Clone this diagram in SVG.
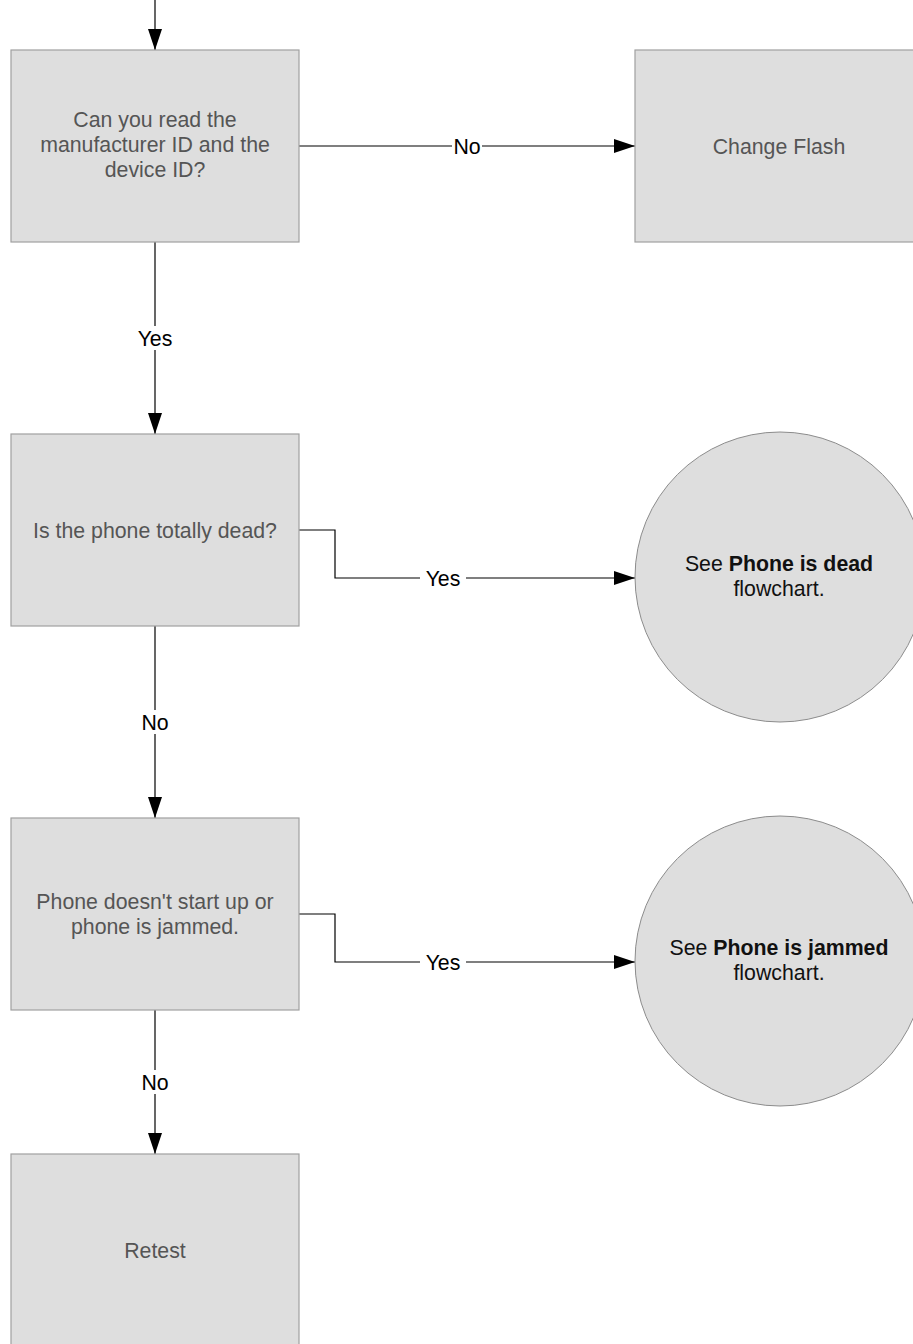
<svg xmlns="http://www.w3.org/2000/svg" width="913" height="1344" viewBox="0 0 913 1344">
  <style>
    .box { fill: #dedede; stroke: #a0a0a0; stroke-width: 1.2; }
    .ell { fill: #dedede; stroke: #8c8c8c; stroke-width: 1; }
    .node-text { font-family: "Liberation Sans", Arial, sans-serif; font-size: 21.3px; fill: #555555; text-anchor: middle; }
    .term-text { font-family: "Liberation Sans", Arial, sans-serif; font-size: 21.3px; fill: #111111; text-anchor: middle; }
    .wire { fill: none; stroke: #000000; stroke-width: 1.2; }
    .lbl-bg { fill: #ffffff; }
    .lbl { font-family: "Liberation Sans", Arial, sans-serif; font-size: 21.3px; fill: #000000; text-anchor: middle; }
  </style>
  <defs>
    <marker id="arrow" markerUnits="userSpaceOnUse" markerWidth="22" markerHeight="16" refX="21" refY="7" orient="auto">
      <path d="M0,0 L21,7 L0,14 z" fill="#000000"/>
    </marker>
  </defs>

  <rect width="913" height="1344" fill="#ffffff"/>

  <!-- connectors -->
  <g id="connectors">
    <line class="wire" x1="155" y1="0" x2="155" y2="50" marker-end="url(#arrow)"/>

    <line class="wire" x1="299" y1="146" x2="635" y2="146" marker-end="url(#arrow)"/>
    <rect class="lbl-bg" x="452" y="134" width="30" height="24"/>
    <text class="lbl" x="467" y="153.5">No</text>

    <line class="wire" x1="155" y1="242" x2="155" y2="434" marker-end="url(#arrow)"/>
    <rect class="lbl-bg" x="135" y="326" width="40" height="24"/>
    <text class="lbl" x="155" y="345.5">Yes</text>

    <polyline class="wire" points="299,530 335,530 335,578 635,578" marker-end="url(#arrow)"/>
    <rect class="lbl-bg" x="420" y="566" width="46" height="24"/>
    <text class="lbl" x="443" y="585.5">Yes</text>

    <line class="wire" x1="155" y1="626" x2="155" y2="818" marker-end="url(#arrow)"/>
    <rect class="lbl-bg" x="139" y="710" width="32" height="24"/>
    <text class="lbl" x="155" y="729.5">No</text>

    <polyline class="wire" points="299,914 335,914 335,962 635,962" marker-end="url(#arrow)"/>
    <rect class="lbl-bg" x="420" y="950" width="46" height="24"/>
    <text class="lbl" x="443" y="969.5">Yes</text>

    <line class="wire" x1="155" y1="1010" x2="155" y2="1154" marker-end="url(#arrow)"/>
    <rect class="lbl-bg" x="139" y="1070" width="32" height="24"/>
    <text class="lbl" x="155" y="1089.5">No</text>
  </g>

  <!-- decision: read IDs -->
  <g id="read-ids">
    <rect class="box" x="11" y="50" width="288" height="192"/>
    <text class="node-text" x="155" y="127">Can you read the</text>
    <text class="node-text" x="155" y="152">manufacturer ID and the</text>
    <text class="node-text" x="155" y="177">device ID?</text>
  </g>

  <!-- action: change flash -->
  <g id="change-flash">
    <rect class="box" x="635" y="50" width="288" height="192"/>
    <text class="node-text" x="779" y="153.5">Change Flash</text>
  </g>

  <!-- decision: totally dead -->
  <g id="totally-dead">
    <rect class="box" x="11" y="434" width="288" height="192"/>
    <text class="node-text" x="155" y="537.5">Is the phone totally dead?</text>
  </g>

  <!-- reference: phone is dead -->
  <g id="see-dead">
    <circle class="ell" cx="780" cy="577" r="145"/>
    <text class="term-text" x="779" y="571">See <tspan font-weight="bold">Phone is dead</tspan></text>
    <text class="term-text" x="779" y="596">flowchart.</text>
  </g>

  <!-- decision: doesn't start / jammed -->
  <g id="jammed">
    <rect class="box" x="11" y="818" width="288" height="192"/>
    <text class="node-text" x="155" y="908.5">Phone doesn't start up or</text>
    <text class="node-text" x="155" y="933.5">phone is jammed.</text>
  </g>

  <!-- reference: phone is jammed -->
  <g id="see-jammed">
    <circle class="ell" cx="780" cy="961" r="145"/>
    <text class="term-text" x="779" y="955">See <tspan font-weight="bold">Phone is jammed</tspan></text>
    <text class="term-text" x="779" y="980">flowchart.</text>
  </g>

  <!-- action: retest -->
  <g id="retest">
    <rect class="box" x="11" y="1154" width="288" height="192"/>
    <text class="node-text" x="155" y="1257.5">Retest</text>
  </g>
</svg>
